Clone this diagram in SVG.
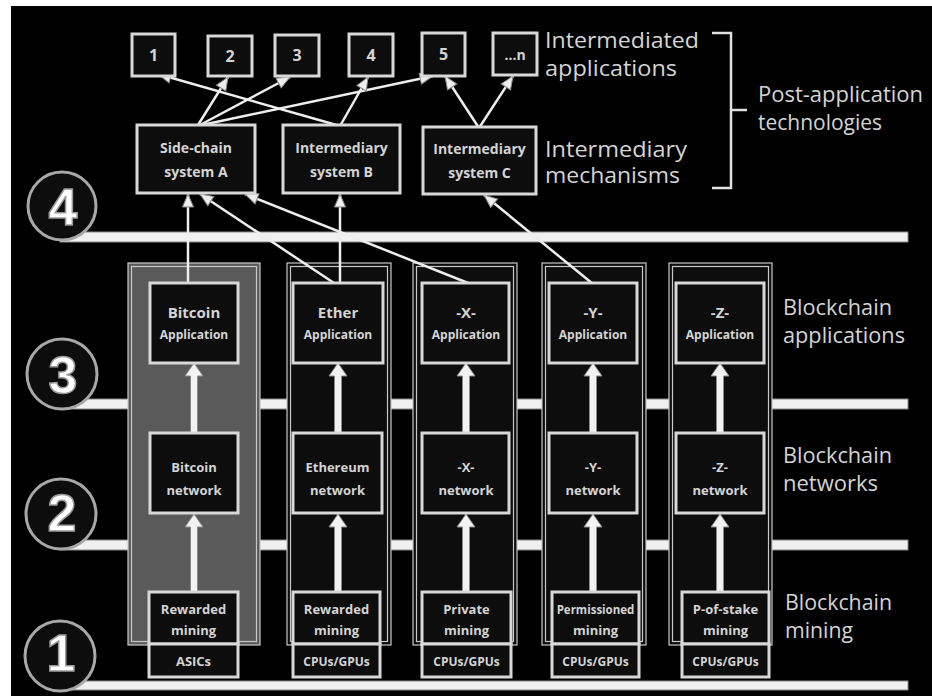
<svg xmlns="http://www.w3.org/2000/svg" width="932" height="696" viewBox="0 0 932 696">
<defs>
<marker id="ah" markerUnits="userSpaceOnUse" markerWidth="16" markerHeight="14" refX="14" refY="7" orient="auto"><path d="M1,1.5 L14,7 L1,12.5 Z" fill="#eeeeee" stroke="#8a8a8a" stroke-width="1"/></marker>
<style>
.bar{fill:#f0f0f0;stroke:#8a8a8a;stroke-width:1}
.panel{fill:#0d0d0d;stroke:#c8c8c8;stroke-width:1.2}
.btc{fill:#5a5a5a}
.pin{fill:none;stroke:#c8c8c8;stroke-width:1.2}
.box{fill:#0d0d0d;stroke:#d8d8d8;stroke-width:3}
.t{font-family:"Open Sans","Liberation Sans",sans-serif;font-weight:bold;fill:#d4d4d4;text-anchor:middle}
.lbl{font-family:"Open Sans","Liberation Sans",sans-serif;fill:#d4d4d4;font-size:21px}
.circ{fill:#0d0d0d;stroke:#a8a8a8;stroke-width:3}
.num{font-family:"Liberation Sans",sans-serif;font-weight:bold;font-size:52px;fill:#ffffff;stroke:#9a9a9a;stroke-width:1.5;text-anchor:middle}
.c{fill:none;stroke:#eeeeee;stroke-width:2.5}
.blk{fill:#f2f2f2;stroke:#8a8a8a;stroke-width:1}
</style>
</defs>
<rect x="0" y="0" width="932" height="696" fill="#ffffff"/>
<rect x="11" y="6" width="921" height="690" fill="#000000"/>

<g id="layer-bars">
<rect class="bar" x="60" y="232" width="848" height="10"/>
<rect class="bar" x="60" y="399" width="848" height="10"/>
<rect class="bar" x="60" y="540" width="848" height="10"/>
<rect class="bar" x="60" y="681" width="848" height="9"/>
</g>

<g id="layer-circles">
<g id="layer4"><circle class="circ" cx="62" cy="206" r="34"/><text class="num" x="63" y="225">4</text></g>
<g id="layer3"><circle class="circ" cx="62" cy="374" r="35"/><text class="num" x="63" y="393">3</text></g>
<g id="layer2"><circle class="circ" cx="61" cy="514" r="35"/><text class="num" x="62" y="531">2</text></g>
<g id="layer1"><circle class="circ" cx="60" cy="656" r="35"/><text class="num" x="61" y="671">1</text></g>
</g>

<g id="panels">
<g id="panel-bitcoin"><rect class="panel btc" x="128" y="263" width="132" height="382"/><rect class="pin" x="131.5" y="266.5" width="125" height="375"/></g>
<g id="panel-ether"><rect class="panel" x="287" y="263" width="104" height="382"/><rect class="pin" x="290.5" y="266.5" width="97" height="375"/></g>
<g id="panel-x"><rect class="panel" x="413" y="263" width="104" height="382"/><rect class="pin" x="416.5" y="266.5" width="97" height="375"/></g>
<g id="panel-y"><rect class="panel" x="542" y="263" width="104" height="382"/><rect class="pin" x="545.5" y="266.5" width="97" height="375"/></g>
<g id="panel-z"><rect class="panel" x="669" y="263" width="103" height="382"/><rect class="pin" x="672.5" y="266.5" width="96" height="375"/></g>
</g>

<g id="connectors">
<path class="blk" d="M190.5,592 V527 H185 L194,514 L203,527 H197.5 V592 Z"/>
<path class="blk" d="M190.5,433 V376 H185 L194,363 L203,376 H197.5 V433 Z"/>
<path class="blk" d="M334.5,592 V527 H329 L338,514 L347,527 H341.5 V592 Z"/>
<path class="blk" d="M334.5,433 V376 H329 L338,363 L347,376 H341.5 V433 Z"/>
<path class="blk" d="M462.5,592 V527 H457 L466,514 L475,527 H469.5 V592 Z"/>
<path class="blk" d="M462.5,433 V376 H457 L466,363 L475,376 H469.5 V433 Z"/>
<path class="blk" d="M589.5,592 V527 H584 L593,514 L602,527 H596.5 V592 Z"/>
<path class="blk" d="M589.5,433 V376 H584 L593,363 L602,376 H596.5 V433 Z"/>
<path class="blk" d="M716.5,592 V527 H711 L720,514 L729,527 H723.5 V592 Z"/>
<path class="blk" d="M716.5,433 V376 H711 L720,363 L729,376 H723.5 V433 Z"/>
<line class="c" x1="188" y1="283" x2="188" y2="194" marker-end="url(#ah)"/>
<line class="c" x1="334" y1="283" x2="200" y2="194" marker-end="url(#ah)"/>
<line class="c" x1="340" y1="283" x2="340" y2="194" marker-end="url(#ah)"/>
<line class="c" x1="468" y1="283" x2="245" y2="194" marker-end="url(#ah)"/>
<line class="c" x1="593" y1="284" x2="484" y2="195" marker-end="url(#ah)"/>
<line class="c" x1="198" y1="125" x2="228" y2="77" marker-end="url(#ah)"/>
<line class="c" x1="200" y1="125" x2="290" y2="77" marker-end="url(#ah)"/>
<line class="c" x1="202" y1="125" x2="433" y2="76" marker-end="url(#ah)"/>
<line class="c" x1="340" y1="126" x2="158" y2="74" marker-end="url(#ah)"/>
<line class="c" x1="340" y1="126" x2="368" y2="77" marker-end="url(#ah)"/>
<line class="c" x1="479" y1="128" x2="445" y2="76" marker-end="url(#ah)"/>
<line class="c" x1="479" y1="128" x2="513" y2="76" marker-end="url(#ah)"/>
</g>

<g id="app-1"><rect class="box" x="132" y="34" width="43" height="42"/><text class="t" x="153.5" y="61" font-size="16">1</text></g>
<g id="app-2"><rect class="box" x="208" y="36" width="44" height="40"/><text class="t" x="230" y="62" font-size="16">2</text></g>
<g id="app-3"><rect class="box" x="275" y="35" width="44" height="41"/><text class="t" x="297" y="61" font-size="16">3</text></g>
<g id="app-4"><rect class="box" x="349" y="34" width="44" height="42"/><text class="t" x="371" y="61" font-size="16">4</text></g>
<g id="app-5"><rect class="box" x="422" y="33" width="43" height="43"/><text class="t" x="443.5" y="60" font-size="16">5</text></g>
<g id="app-n"><rect class="box" x="493" y="33" width="44" height="42"/><text class="t" x="515" y="60" font-size="14">...n</text></g>

<g id="sidechain-a"><rect class="box" x="137" y="125" width="118" height="68"/><text class="t" x="196" y="153" font-size="14">Side-chain</text><text class="t" x="196" y="177" font-size="14">system A</text></g>
<g id="intermediary-b"><rect class="box" x="283" y="125" width="117" height="68"/><text class="t" x="341.5" y="153" font-size="14">Intermediary</text><text class="t" x="341.5" y="177" font-size="14">system B</text></g>
<g id="intermediary-c"><rect class="box" x="423" y="127" width="113" height="67"/><text class="t" x="479.5" y="154" font-size="14">Intermediary</text><text class="t" x="479.5" y="178" font-size="14">system C</text></g>

<g id="bitcoin-app"><rect class="box" x="150" y="283" width="88" height="80"/><text class="t" x="194" y="318" font-size="15">Bitcoin</text><text class="t" x="194" y="339" font-size="12">Application</text></g>
<g id="ether-app"><rect class="box" x="293" y="283" width="90" height="80"/><text class="t" x="338" y="318" font-size="15">Ether</text><text class="t" x="338" y="339" font-size="12">Application</text></g>
<g id="x-app"><rect class="box" x="422" y="283" width="87" height="80"/><text class="t" x="466" y="318" font-size="15">-X-</text><text class="t" x="466" y="339" font-size="12">Application</text></g>
<g id="y-app"><rect class="box" x="549" y="283" width="88" height="80"/><text class="t" x="593" y="318" font-size="15">-Y-</text><text class="t" x="593" y="339" font-size="12">Application</text></g>
<g id="z-app"><rect class="box" x="676" y="283" width="88" height="80"/><text class="t" x="720" y="318" font-size="15">-Z-</text><text class="t" x="720" y="339" font-size="12">Application</text></g>

<g id="bitcoin-net"><rect class="box" x="150" y="433" width="88" height="80"/><text class="t" x="194" y="472" font-size="13">Bitcoin</text><text class="t" x="194" y="495" font-size="13">network</text></g>
<g id="ether-net"><rect class="box" x="293" y="433" width="89" height="80"/><text class="t" x="337.5" y="472" font-size="13">Ethereum</text><text class="t" x="337.5" y="495" font-size="13">network</text></g>
<g id="x-net"><rect class="box" x="422" y="433" width="87" height="80"/><text class="t" x="466" y="472" font-size="13">-X-</text><text class="t" x="466" y="495" font-size="13">network</text></g>
<g id="y-net"><rect class="box" x="549" y="433" width="88" height="80"/><text class="t" x="593" y="472" font-size="13">-Y-</text><text class="t" x="593" y="495" font-size="13">network</text></g>
<g id="z-net"><rect class="box" x="676" y="433" width="88" height="80"/><text class="t" x="720" y="472" font-size="13">-Z-</text><text class="t" x="720" y="495" font-size="13">network</text></g>

<g id="bitcoin-mining"><rect class="box" x="149" y="592" width="89" height="52"/><text class="t" x="193.5" y="614" font-size="13">Rewarded</text><text class="t" x="193.5" y="635" font-size="13">mining</text></g>
<g id="ether-mining"><rect class="box" x="293" y="592" width="87" height="52"/><text class="t" x="336.5" y="614" font-size="13">Rewarded</text><text class="t" x="336.5" y="635" font-size="13">mining</text></g>
<g id="x-mining"><rect class="box" x="422" y="592" width="89" height="52"/><text class="t" x="466.5" y="614" font-size="13">Private</text><text class="t" x="466.5" y="635" font-size="13">mining</text></g>
<g id="y-mining"><rect class="box" x="552" y="592" width="87" height="52"/><text class="t" x="595.5" y="614" font-size="11.5">Permissioned</text><text class="t" x="595.5" y="635" font-size="13">mining</text></g>
<g id="z-mining"><rect class="box" x="682" y="592" width="87" height="52"/><text class="t" x="725.5" y="614" font-size="13">P-of-stake</text><text class="t" x="725.5" y="635" font-size="13">mining</text></g>

<g id="bitcoin-hw"><rect class="box" x="149" y="644" width="89" height="33"/><text class="t" x="193.5" y="666" font-size="13">ASICs</text></g>
<g id="ether-hw"><rect class="box" x="293" y="644" width="87" height="33"/><text class="t" x="336.5" y="666" font-size="12">CPUs/GPUs</text></g>
<g id="x-hw"><rect class="box" x="422" y="644" width="89" height="33"/><text class="t" x="466.5" y="666" font-size="12">CPUs/GPUs</text></g>
<g id="y-hw"><rect class="box" x="552" y="644" width="87" height="33"/><text class="t" x="595.5" y="666" font-size="12">CPUs/GPUs</text></g>
<g id="z-hw"><rect class="box" x="682" y="644" width="87" height="33"/><text class="t" x="725.5" y="666" font-size="12">CPUs/GPUs</text></g>

<g id="labels">
<text class="lbl" x="545" y="48" textLength="154" lengthAdjust="spacingAndGlyphs">Intermediated</text>
<text class="lbl" x="545" y="76" textLength="132" lengthAdjust="spacingAndGlyphs">applications</text>
<text class="lbl" x="545" y="157" textLength="142" lengthAdjust="spacingAndGlyphs">Intermediary</text>
<text class="lbl" x="545" y="183" textLength="135" lengthAdjust="spacingAndGlyphs">mechanisms</text>
<path d="M712,33 H731 V188 H712 M731,110 H747" fill="none" stroke="#e0e0e0" stroke-width="2.5"/>
<text class="lbl" x="758" y="102" font-size="19" textLength="165" lengthAdjust="spacingAndGlyphs">Post-application</text>
<text class="lbl" x="758" y="130" font-size="19" textLength="124" lengthAdjust="spacingAndGlyphs">technologies</text>
<text class="lbl" x="783" y="315" font-size="20" textLength="109" lengthAdjust="spacingAndGlyphs">Blockchain</text>
<text class="lbl" x="783" y="343" font-size="20" textLength="122" lengthAdjust="spacingAndGlyphs">applications</text>
<text class="lbl" x="783" y="463" font-size="20" textLength="109" lengthAdjust="spacingAndGlyphs">Blockchain</text>
<text class="lbl" x="783" y="491" font-size="20" textLength="95" lengthAdjust="spacingAndGlyphs">networks</text>
<text class="lbl" x="785" y="610" font-size="20" textLength="107" lengthAdjust="spacingAndGlyphs">Blockchain</text>
<text class="lbl" x="785" y="638" font-size="20" textLength="68" lengthAdjust="spacingAndGlyphs">mining</text>
</g>
</svg>
